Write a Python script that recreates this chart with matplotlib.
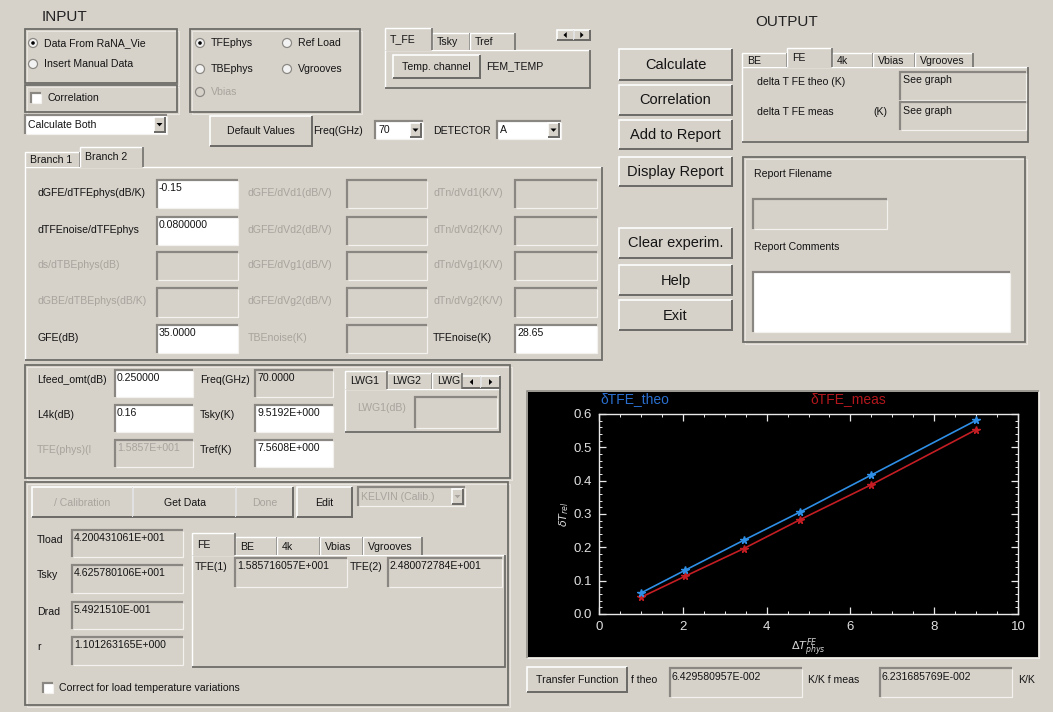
import matplotlib
matplotlib.use('Agg')
import matplotlib.pyplot as plt
from matplotlib.patches import Rectangle, Circle, Polygon
from matplotlib.ticker import MultipleLocator

# ---------------- data ----------------
delta_T_phys = [1.0, 2.05, 3.45, 4.8, 6.5, 9.0]
dT_theo = [0.063, 0.131, 0.221, 0.306, 0.417, 0.581]
dT_meas = [0.050, 0.113, 0.196, 0.283, 0.388, 0.553]
x_ticks = [0, 2, 4, 6, 8, 10]
y_ticks = [0.0, 0.1, 0.2, 0.3, 0.4, 0.5, 0.6]
series_names = ['\u03b4TFE_theo', '\u03b4TFE_meas']

branch_col1_labels = ['dGFE/dTFEphys(dB/K)', 'dTFEnoise/dTFEphys', 'ds/dTBEphys(dB)',
                      'dGBE/dTBEphys(dB/K)', 'GFE(dB)']
branch_col1_values = ['-0.15', '0.0800000', '', '', '35.0000']
branch_col2_labels = ['dGFE/dVd1(dB/V)', 'dGFE/dVd2(dB/V)', 'dGFE/dVg1(dB/V)',
                      'dGFE/dVg2(dB/V)', 'TBEnoise(K)']
branch_col3_labels = ['dTn/dVd1(K/V)', 'dTn/dVd2(K/V)', 'dTn/dVg1(K/V)',
                      'dTn/dVg2(K/V)', 'TFEnoise(K)']
branch_col3_values = ['', '', '', '', '28.65']
result_labels = ['Tload', 'Tsky', 'Drad', 'r']
result_values = ['4.200431061E+001', '4.625780106E+001', '5.4921510E-001', '1.101263165E+000']
right_buttons = ['Calculate', 'Correlation', 'Add to Report', 'Display Report',
                 'Clear experim.', 'Help', 'Exit']
f_theo = '6.429580957E-002'
f_meas = '6.231685769E-002'

# ---------------- style ----------------
W, H = 1053, 712
BG = '#d6d2ca'
DARK = '#6e6c68'
MID = '#8a8782'
LIGHT = '#ffffff'
GREYTXT = '#a8a49d'
TXT = '#141414'
FONT = 'Liberation Sans'
FS = 7.6

fig = plt.figure(figsize=(W / 100, H / 100), dpi=100, facecolor=BG)
ax = fig.add_axes([0, 0, 1, 1])
ax.set_xlim(0, W)
ax.set_ylim(H, 0)
ax.axis('off')
ax.set_facecolor(BG)

PX = 0.72


def rect(x0, y0, x1, y1, fc=BG, ec='none', lw=0, z=1):
    ax.add_patch(Rectangle((x0, y0), x1 - x0, y1 - y0, facecolor=fc,
                           edgecolor=ec, linewidth=lw, zorder=z))


def line(xs, ys, c, lw=1, z=2):
    ax.plot(xs, ys, color=c, lw=lw * PX, solid_capstyle='butt',
            solid_joinstyle='miter', zorder=z)


def txt(x, y, s, fs=FS, c=TXT, ha='left', z=5, **kw):
    ax.text(x, y, s, fontsize=fs, color=c, ha=ha, va='center',
            family=FONT, zorder=z, **kw)


def sunken(x0, y0, x1, y1, fc=BG):
    rect(x0, y0, x1, y1, fc=fc, z=2)
    line([x0, x0, x1], [y1, y0, y0], MID, 2.2, z=3)
    line([x0 + 1, x1, x1], [y1, y1, y0 + 1], '#f4f2ee', 1.2, z=3)


def raised(x0, y0, x1, y1, fc=BG, label=None, fs=FS, c=TXT):
    rect(x0, y0, x1, y1, fc=fc, z=2)
    line([x0, x0, x1], [y1, y0, y0], LIGHT, 1.6, z=3)
    line([x0, x1, x1], [y1, y1, y0], DARK, 2.0, z=3)
    if label is not None:
        txt((x0 + x1) / 2, (y0 + y1) / 2 + 0.5, label, fs=fs, c=c, ha='center')


def frame(x0, y0, x1, y1):
    rect(x0, y0, x1, y1, fc='none', ec=DARK, lw=1.8 * PX, z=2)
    rect(x0 + 1.5, y0 + 1.5, x1 + 1.5, y1 + 1.5, fc='none', ec='#eeebe6', lw=0.8 * PX, z=1.5)


def radio(x, y, label, on=False, grey=False):
    ax.add_patch(Circle((x, y), 4.5, facecolor='#f2f2f2' if not grey else BG,
                        edgecolor=MID, lw=1.2 * PX, zorder=3))
    if on:
        ax.add_patch(Circle((x, y), 1.8, facecolor='black', edgecolor='none', zorder=4))
    txt(x + 11, y, label, c=GREYTXT if grey else TXT)


def checkbox(x, y, label):
    sunken(x, y - 5, x + 10, y + 5, fc='white')
    txt(x + 16, y, label)


def combo(x0, y0, x1, y1, label, grey=False):
    sunken(x0, y0, x1, y1, fc=BG if grey else 'white')
    txt(x0 + 3, (y0 + y1) / 2, label, c=GREYTXT if grey else TXT)
    bx0, bx1 = x1 - 13, x1 - 2
    raised(bx0, y0 + 2, bx1, y1 - 2)
    cx, cy = (bx0 + bx1) / 2, (y0 + y1) / 2
    ax.add_patch(Polygon([[cx - 3, cy - 1.5], [cx + 3, cy - 1.5], [cx, cy + 1.8]],
                         closed=True, fc=GREYTXT if grey else 'black', ec='none', zorder=5))


def tab(x0, y0, x1, y1, label, selected=False, fs=FS):
    rect(x0, y0, x1, y1 + (1 if selected else 0), fc=BG, z=3.5)
    line([x0, x0, x1], [y1, y0, y0], LIGHT, 1.4, z=4)
    line([x1, x1], [y0, y1], DARK, 1.6, z=4)
    txt(x0 + 5, (y0 + y1) / 2 + 0.5, label, fs=fs, z=5)


def panel(x0, y0, x1, y1):
    rect(x0, y0, x1, y1, fc=BG, z=1.8)
    line([x0, x0, x1], [y1, y0, y0], LIGHT, 1.4, z=3)
    line([x0, x1, x1], [y1, y1, y0], DARK, 1.8, z=3)


def arrows(x0, y0, x1, y1):
    xm = (x0 + x1) / 2
    raised(x0, y0, xm, y1)
    raised(xm, y0, x1, y1)
    cy = (y0 + y1) / 2
    c1 = (x0 + xm) / 2
    c2 = (xm + x1) / 2
    ax.add_patch(Polygon([[c1 + 1.5, cy - 3], [c1 + 1.5, cy + 3], [c1 - 1.8, cy]], fc='black', ec='none', zorder=5))
    ax.add_patch(Polygon([[c2 - 1.5, cy - 3], [c2 - 1.5, cy + 3], [c2 + 1.8, cy]], fc='black', ec='none', zorder=5))


# ---------------- INPUT area ----------------
txt(42, 17, 'INPUT', fs=11, c='#222222')
frame(25, 29, 177, 83)
radio(33, 43, 'Data From RaNA_Vie', on=True)
radio(33, 64, 'Insert Manual Data')
frame(25, 85, 177, 112)
checkbox(31, 98, 'Correlation')
combo(25, 115, 167, 134, 'Calculate Both')

frame(190, 29, 360, 112)
radio(200, 43, 'TFEphys', on=True)
radio(287, 43, 'Ref Load')
radio(200, 69, 'TBEphys')
radio(287, 69, 'Vgrooves')
radio(200, 92, 'Vbias', grey=True)

raised(210, 116, 312, 146, label='Default Values')
txt(313, 131, 'Freq(GHz)')
combo(375, 121, 423, 139, '70')
txt(433, 131, 'DETECTOR')
combo(497, 121, 561, 139, 'A')

# temperature tabs
panel(385, 50, 590, 88)
tab(432, 33, 470, 50, 'Tsky')
tab(470, 33, 515, 50, 'Tref')
tab(385, 28, 432, 50, 'T_FE', selected=True)
arrows(557, 30, 590, 40)
raised(393, 55, 480, 78, label='Temp. channel')
txt(486, 66, 'FEM_TEMP')

# ---------------- Branch panel ----------------
panel(25, 167, 602, 360)
tab(25, 152, 80, 167, 'Branch 1')
tab(80, 147, 143, 167, 'Branch 2', selected=True)
row_y = [(180, 208), (217, 245), (252, 280), (288, 317), (325, 353)]
for i, (y0, y1) in enumerate(row_y):
    yc = (y0 + y1) / 2 - 1
    g1 = branch_col1_values[i] == ''
    txt(37, yc, branch_col1_labels[i], c=GREYTXT if g1 else TXT)
    sunken(157, y0, 238, y1, fc=BG if g1 else 'white')
    if not g1:
        txt(159, y0 + 8, branch_col1_values[i])
    txt(248, yc, branch_col2_labels[i], c=GREYTXT)
    sunken(347, y0, 427, y1)
    g3 = branch_col3_values[i] == ''
    txt(433, yc, branch_col3_labels[i], c=GREYTXT if g3 else TXT)
    sunken(515, y0, 597, y1, fc=BG if g3 else 'white')
    if not g3:
        txt(517, y0 + 8, branch_col3_values[i])

# ---------------- Lfeed frame ----------------
frame(25, 365, 510, 478)
l_rows = [(370, 397), (405, 432), (440, 467)]
l_labels = ['Lfeed_omt(dB)', 'L4k(dB)', 'TFE(phys)(l']
l_values = ['0.250000', '0.16', '1.5857E+001']
m_labels = ['Freq(GHz)', 'Tsky(K)', 'Tref(K)']
m_values = ['70.0000', '9.5192E+000', '7.5608E+000']
for i, (y0, y1) in enumerate(l_rows):
    yc = y0 + 10
    grey = (i == 2)
    txt(37, yc, l_labels[i], c=GREYTXT if grey else TXT)
    sunken(115, y0, 193, y1, fc=BG if grey else 'white')
    txt(117, y0 + 8, l_values[i], c=GREYTXT if grey else TXT)
    txt(200, yc, m_labels[i])
    sunken(255, y0, 333, y1, fc=BG if i == 0 else 'white')
    txt(257, y0 + 8, m_values[i])

panel(345, 389, 500, 432)
tab(387, 373, 432, 389, 'LWG2')
tab(432, 373, 462, 389, 'LWG')
tab(345, 371, 387, 389, 'LWG1', selected=True)
arrows(462, 376, 500, 388)
txt(357, 408, 'LWG1(dB)', c=GREYTXT)
sunken(415, 397, 497, 428)

# ---------------- bottom frame ----------------
frame(25, 482, 508, 705)
raised(32, 487, 133, 517, label='/ Calibration', c=GREYTXT)
raised(133, 487, 236, 517, label='Get Data')
raised(236, 487, 293, 517, label='Done', c=GREYTXT)
raised(297, 487, 352, 517, label='Edit')
combo(358, 487, 465, 506, 'KELVIN (Calib.)', grey=True)

res_y = [(530, 557), (565, 593), (602, 629), (637, 665)]
for i, (y0, y1) in enumerate(res_y):
    txt(37, y0 + 10, result_labels[i])
    sunken(72, y0, 183, y1)
    txt(74, y0 + 8, result_values[i])

panel(192, 555, 505, 667)
tab(235, 537, 277, 555, 'BE')
tab(277, 537, 320, 555, '4k')
tab(320, 537, 363, 555, 'Vbias')
tab(363, 537, 422, 555, 'Vgrooves')
tab(192, 533, 235, 555, 'FE', selected=True)
txt(195, 567, 'TFE(1)')
sunken(235, 558, 347, 587)
txt(237, 566, '1.585716057E+001')
txt(350, 567, 'TFE(2)')
sunken(388, 558, 502, 587)
txt(390, 566, '2.480072784E+001')
checkbox(43, 688, 'Correct for load temperature variations')

# ---------------- right buttons ----------------
btn_y = [(49, 80), (85, 115), (120, 149), (157, 186), (228, 258), (265, 295), (300, 330)]
for lab, (y0, y1) in zip(right_buttons, btn_y):
    raised(619, y0, 732, y1, label=lab, fs=10.5)

# ---------------- OUTPUT area ----------------
txt(755, 22, 'OUTPUT', fs=11, c='#222222')
panel(742, 67, 1028, 142)
tab(742, 53, 787, 67, 'BE')
tab(832, 53, 873, 67, '4k')
tab(873, 53, 915, 67, 'Vbias')
tab(915, 53, 973, 67, 'Vgrooves')
tab(787, 48, 832, 67, 'FE', selected=True)
txt(757, 82, 'delta T FE theo (K)')
sunken(900, 72, 1026, 100)
txt(903, 80, 'See graph')
txt(757, 112, 'delta T FE meas')
txt(873, 112, '(K)')
sunken(900, 102, 1026, 130)
txt(903, 111, 'See graph')

frame(743, 157, 1025, 342)
txt(754, 174, 'Report Filename')
sunken(753, 199, 887, 229)
txt(754, 247, 'Report Comments')
sunken(753, 272, 1010, 332, fc='white')

# ---------------- transfer function row ----------------
raised(527, 667, 627, 692, label='Transfer Function')
txt(631, 680, 'f theo')
sunken(670, 668, 802, 697)
txt(672, 677, f_theo)
txt(808, 680, 'K/K f meas')
sunken(880, 668, 1012, 697)
txt(882, 677, f_meas)
txt(1018, 680, 'K/K')

# ---------------- plot area ----------------
rect(528, 392, 1038, 657, fc='black', z=2)
line([527, 527, 1039], [658, 391, 391], MID, 1.5, z=3)
line([527, 1039, 1039], [658, 658, 391], '#f0eee9', 1.2, z=3)

ax2 = fig.add_axes([599 / W, (H - 614) / H, 419 / W, 200 / H])
ax2.set_facecolor('black')
ax2.plot(delta_T_phys, dT_theo, color='#2f8fe6', lw=1.2, marker='*', ms=5.5,
         mec='#2f8fe6', mfc='#2f8fe6', zorder=4)
ax2.plot(delta_T_phys, dT_meas, color='#c41e24', lw=1.2, marker='*', ms=5.5,
         mec='#c41e24', mfc='#c41e24', zorder=3)
ax2.set_xlim(0, 10)
ax2.set_ylim(0, 0.6)
ax2.set_xticks(x_ticks)
ax2.set_xticklabels([str(v) for v in x_ticks])
ax2.set_yticks(y_ticks)
ax2.set_yticklabels(['%.1f' % v for v in y_ticks])
ax2.xaxis.set_minor_locator(MultipleLocator(0.5))
ax2.yaxis.set_minor_locator(MultipleLocator(0.02))
for sp in ax2.spines.values():
    sp.set_color('#e8e8e8')
    sp.set_linewidth(1.0)
ax2.tick_params(which='both', direction='in', colors='#e8e8e8', top=True, right=True,
                labelcolor='#e0e0e0', labelsize=9.5)
ax2.tick_params(which='major', length=5, width=0.9, pad=5)
ax2.tick_params(which='minor', length=2.5, width=0.7)
for lab in ax2.get_xticklabels() + ax2.get_yticklabels():
    lab.set_family(FONT)
ax2.set_xlabel(r'$\Delta T^{FE}_{phys}$', color='#d8d8d8', fontsize=8, labelpad=3)
ax2.set_ylabel(r'$\delta T_{rel}$', color='#d8d8d8', fontsize=8, labelpad=2)

txt(600, 399, series_names[0], fs=10, c='#2a6fd0', z=6)
txt(810, 399, series_names[1], fs=10, c='#b3171d', z=6)

fig.savefig('out.png', dpi=100, facecolor=BG)
